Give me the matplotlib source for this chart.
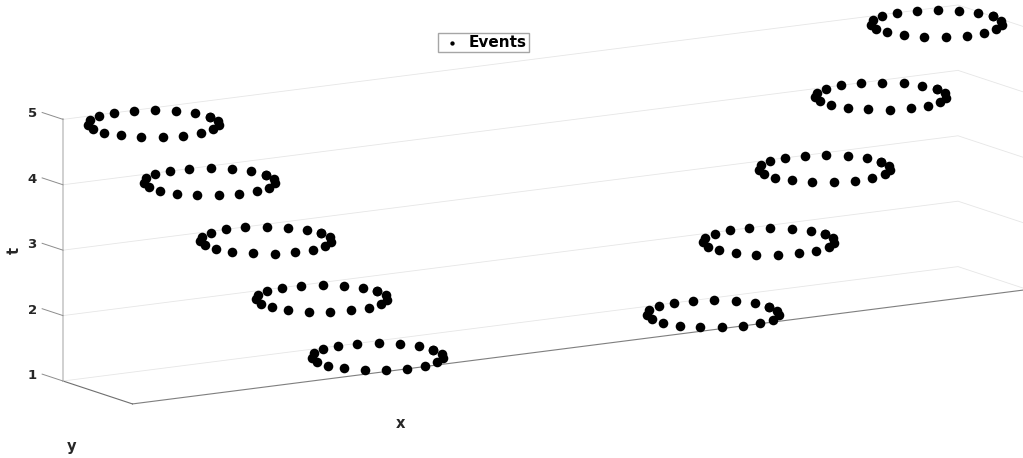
import numpy as np
import matplotlib
matplotlib.use('Agg')
import matplotlib.pyplot as plt
from mpl_toolkits.mplot3d import proj3d

plt.rcParams['font.family'] = ['DejaVu Sans']
plt.rcParams['font.weight'] = 'bold'
plt.rcParams['grid.color'] = '#e6e6e6'
plt.rcParams['grid.linewidth'] = 0.6

# event rings: one ring of points per time step, two groups drifting apart
t_levels = [1, 2, 3, 4, 5]
left_x = [-3, -4, -5, -6, -7]
right_x = [3, 4, 5, 6, 7]
ring_y = [0, 0, 0, 0, 0]
ring_radius = 1.0
ring_angles_deg = [0, 19, 38, 57, 76, 95, 114, 133, 152, 171,
                   189, 208, 227, 246, 265, 284, 303, 322, 341, 360]

x_lim = (-8, 8)
y_lim = (-1, 1)
t_lim = (1, 5)

ang = np.radians(ring_angles_deg)
xs, ys, zs = [], [], []
for t, xl, xr, yc in zip(t_levels, left_x, right_x, ring_y):
    for xc in (xl, xr):
        xs.extend(xc + ring_radius * np.cos(ang))
        ys.extend(yc + ring_radius * np.sin(ang))
        zs.extend([t] * len(ang))

W, H = 1023, 458
fig = plt.figure(figsize=(W / 100, H / 100), dpi=100)
ax = fig.add_axes([0, 0, 1, 1], projection='3d', proj_type='ortho')
ax.view_init(elev=11.85, azim=-121.9)
ax.set_box_aspect((1047.8, 130.7, 265.7))

sc = ax.scatter(xs, ys, zs, s=48, c='black', edgecolors='black',
                linewidths=0, depthshade=False, label='Events')
sc.set_clip_on(False)

ax.set_xlim(*x_lim)
ax.set_ylim(*y_lim)
ax.set_zlim(*t_lim)
ax.set_xticks([])
ax.set_yticks([])
ax.set_zticks(t_levels)
ax.set_zticklabels([])
# mplot3d puts z ticks along x here; switch them off and draw them along y
ax.zaxis._axinfo['tick']['outward_factor'] = 0.0
ax.zaxis._axinfo['tick']['inward_factor'] = 0.0

for t in t_levels:
    tk, = ax.plot([x_lim[0], x_lim[0]], [y_lim[1], y_lim[1] + 0.6], [t, t],
                  color='#8c8c8c', linewidth=0.7)
    tk.set_clip_on(False)

for axis in (ax.xaxis, ax.yaxis, ax.zaxis):
    axis.pane.set_facecolor((1, 1, 1, 0))
    axis.pane.set_edgecolor((1, 1, 1, 0))
ax.xaxis.line.set_color('#7f7f7f')
ax.yaxis.line.set_color('#6f6f6f')
ax.zaxis.line.set_color('#c8c8c8')
ax.zaxis.line.set_linewidth(1.2)

# fit the projected box to the reference frame
fig.canvas.draw()
M = ax.get_proj()
u, v, _ = proj3d.proj_transform(np.array([x_lim[0], x_lim[1]]),
                                np.array([y_lim[1], y_lim[1]]),
                                np.array([t_lim[0], t_lim[0]]), M)
pts = ax.transData.transform(np.column_stack([u, v]))
pos = ax.get_position()
left0, bottom0, size0 = pos.x0 * W, pos.y0 * H, pos.width * W
scale = 895.0 / (pts[1, 0] - pts[0, 0])
size = size0 * scale
left = 63 - (pts[0, 0] - left0) * scale
bottom = (H - 381) - (pts[0, 1] - bottom0) * scale
ax.set_position([left / W, bottom / H, size / W, size / H])

# t tick labels just behind the back-left corner, as in the reference
n = len(t_levels)
lu, lv, _ = proj3d.proj_transform(np.full(n, x_lim[0] - 0.18),
                                  np.full(n, y_lim[1] + 0.6),
                                  np.array(t_levels, dtype=float), M)
lab_px = ax.transData.transform(np.column_stack([lu, lv]))
for t, (px, py) in zip(t_levels, lab_px):
    fig.text(px / W, py / H, str(t), ha='center', va='center',
             fontsize=9.5, color='#262626')

fig.text(400 / W, 1 - 423 / H, 'x', ha='center', va='center', fontsize=10.5, color='#262626')
fig.text(72 / W, 1 - 446 / H, 'y', ha='center', va='center', fontsize=10.5, color='#262626')
fig.text(14 / W, 1 - 250 / H, 't', ha='center', va='center', fontsize=10.5,
         color='#262626', rotation=90)

ax.legend(loc='center', bbox_to_anchor=(483.5 / W, 1 - 42.5 / H),
          bbox_transform=fig.transFigure, fancybox=False, framealpha=1,
          edgecolor='#a6a6a6', fontsize=11, markerscale=0.45,
          handletextpad=0.3, borderpad=0.15, handlelength=1.6)

fig.savefig('out.png', dpi=100)
